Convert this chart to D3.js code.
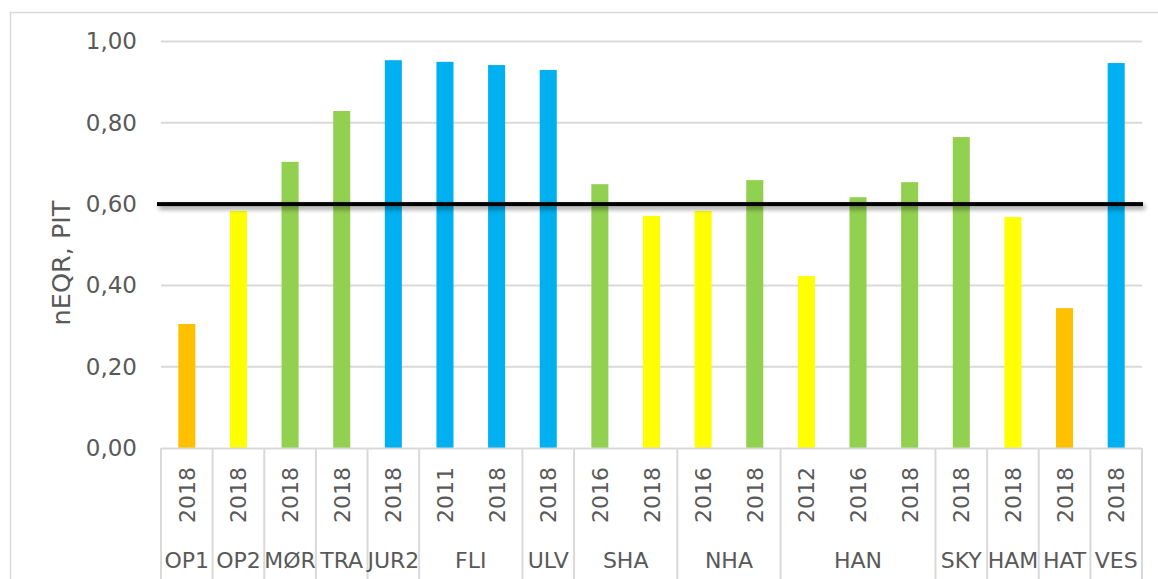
<!DOCTYPE html>
<html>
<head>
<meta charset="utf-8" />
<title>nEQR PIT</title>
<script src="https://d3js.org/d3.v7.min.js"></script>
<style>
body { margin: 0; background: white; }
svg { display: block; font-family: Verdana, "DejaVu Sans", sans-serif; }
text { fill: #595959; }
</style>
</head>
<body>
<div id="container"></div>
<script>
// stations (outer level) and years (inner level) of the category axis
var groups = ["OP1", "OP2", "MØR", "TRA", "JUR2", "FLI", "ULV", "SHA", "NHA", "HAN", "SKY", "HAM", "HAT", "VES"];
var groupSizes = [1, 1, 1, 1, 1, 2, 1, 2, 2, 3, 1, 1, 1, 1];
var years = ["2018", "2018", "2018", "2018", "2018", "2011", "2018", "2018", "2016", "2018",
             "2016", "2018", "2012", "2016", "2018", "2018", "2018", "2018", "2018"];
var values = [0.305, 0.583, 0.704, 0.829, 0.954, 0.950, 0.942, 0.930, 0.649, 0.571,
              0.583, 0.659, 0.423, 0.617, 0.654, 0.765, 0.568, 0.344, 0.947];
// class of each bar: 0 = orange, 1 = yellow, 2 = green, 3 = blue
var classes = [0, 1, 2, 2, 3, 3, 3, 3, 2, 1, 1, 2, 1, 2, 2, 2, 1, 0, 3];
var yTicks = [0, 0.2, 0.4, 0.6, 0.8, 1.0];
var threshold = 0.6;

var classColors = ["#FFC000", "#FFFF00", "#92D050", "#00B0F0"];

var width = 1158, height = 579;
var plotLeft = 161, plotRight = 1142, plotTop = 41.5, plotBottom = 448;

var svg = d3.select("#container").append("svg")
    .attr("width", width).attr("height", height);

// drop shadow for the threshold line
var defs = svg.append("defs");
var f = defs.append("filter").attr("id", "shadow")
    .attr("filterUnits", "userSpaceOnUse")
    .attr("x", 140).attr("y", 180).attr("width", 1018).attr("height", 50);
f.append("feDropShadow").attr("dx", 2).attr("dy", 3).attr("stdDeviation", 2.5)
    .attr("flood-color", "#000").attr("flood-opacity", 0.45);

// chart frame
svg.append("rect").attr("x", 10.5).attr("y", 12.5)
    .attr("width", 1160).attr("height", 600)
    .attr("fill", "none").attr("stroke", "#d9d9d9").attr("stroke-width", 1.5);

var x = d3.scaleBand().domain(d3.range(values.length)).range([plotLeft, plotRight]).paddingInner(0.67).paddingOuter(0.335);
var y = d3.scaleLinear().domain([0, 1]).range([plotBottom, plotTop]);

// gridlines
svg.append("g").selectAll("line").data(yTicks.slice(1)).enter().append("line")
    .attr("x1", plotLeft).attr("x2", plotRight)
    .attr("y1", function(d) { return y(d); }).attr("y2", function(d) { return y(d); })
    .attr("stroke", "#d9d9d9").attr("stroke-width", 2);

// y axis labels
var yAxis = d3.axisLeft(y).tickValues(yTicks).tickSize(0).tickPadding(24)
    .tickFormat(function(d) { return d3.format(".2f")(d).replace(".", ","); });
var ga = svg.append("g").attr("transform", "translate(" + plotLeft + ",0)").call(yAxis);
ga.attr("font-family", null).attr("font-size", null);
ga.select(".domain").remove();
ga.selectAll("text").style("font-size", "23px").attr("fill", "#595959");

// axis title
svg.append("text")
    .attr("transform", "translate(70,263) rotate(-90)")
    .attr("text-anchor", "middle")
    .style("font-size", "25.5px")
    .text("nEQR, PIT");

// bars
svg.append("g").selectAll("rect").data(values).enter().append("rect")
    .attr("x", function(d, i) { return x(i); })
    .attr("width", x.bandwidth())
    .attr("y", function(d) { return y(d); })
    .attr("height", function(d) { return plotBottom - y(d); })
    .attr("fill", function(d, i) { return classColors[classes[i]]; });

// category axis line
svg.append("line").attr("x1", plotLeft).attr("x2", plotRight).attr("y1", plotBottom + 0.5).attr("y2", plotBottom + 0.5)
    .attr("stroke", "#d9d9d9").attr("stroke-width", 2);

// group separators and labels
var step = x.step();
var starts = [0];
groupSizes.forEach(function(n, i) { starts.push(starts[i] + n); });
svg.append("g").selectAll("line").data(starts).enter().append("line")
    .attr("x1", function(d) { return plotLeft + d * step; })
    .attr("x2", function(d) { return plotLeft + d * step; })
    .attr("y1", plotBottom).attr("y2", height)
    .attr("stroke", "#d9d9d9").attr("stroke-width", 2);

svg.append("g").selectAll("text").data(groups).enter().append("text")
    .attr("x", function(d, i) { return plotLeft + (starts[i] + groupSizes[i] / 2) * step; })
    .attr("y", 568)
    .attr("text-anchor", "middle")
    .style("font-size", "22px")
    .text(function(d) { return d; });

// year labels
svg.append("g").selectAll("text").data(years).enter().append("text")
    .attr("transform", function(d, i) {
        return "translate(" + (x(i) + x.bandwidth() / 2 + 8) + ",495) rotate(-90)";
    })
    .attr("text-anchor", "middle")
    .style("font-size", "22px")
    .text(function(d) { return d; });

// threshold line
svg.append("rect")
    .attr("x", 157).attr("width", 986)
    .attr("y", y(threshold) - 2).attr("height", 4)
    .attr("fill", "#000")
    .attr("filter", "url(#shadow)");
</script>
</body>
</html>
